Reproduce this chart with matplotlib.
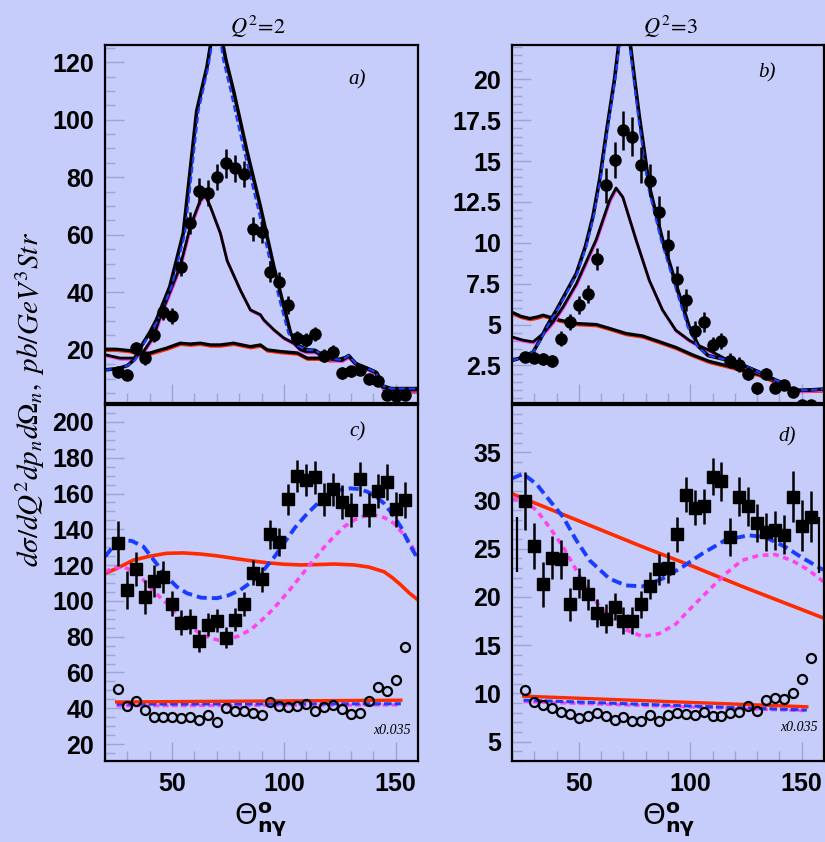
import matplotlib
matplotlib.use("Agg")
import matplotlib.pyplot as plt
import matplotlib.patheffects as pe
from matplotlib.ticker import MultipleLocator

BG = "#c6cdfa"
RED = "#ff2a00"
BLUE = "#1a3cff"
MAGENTA = "#ff44ee"
TICK = "#9ca4d8"

# угловые бины (общие для всех панелей)
theta = [26, 30, 34, 38, 42, 46, 50, 54, 58, 62, 66, 70, 74, 78, 82, 86, 90,
         94, 98, 102, 106, 110, 114, 118, 122, 126, 130, 134, 138, 142, 146, 150, 154]

# --- панель a) Q2=2 ---
data_a = [12.1, 11.3, 20.6, 17.1, 25.2, 33.3, 31.6, 48.9, 64.0, 75.3, 74.6, 80.2, 84.8,
          83.1, 81.0, 61.9, 61.1, 47.2, 43.4, 35.6, 24.0, 23.5, 25.4, 18.0, 19.4, 11.9,
          12.5, 13.0, 9.8, 9.0, 4.4, 4.0, 4.4]
err_a = [1.5, 1.5, 2.2, 2.5, 2.5, 2.8, 2.8, 3.3, 3.8, 4.5, 4.5, 4.5, 5.0, 4.8, 4.5, 4.2,
         4.0, 3.8, 3.5, 3.0, 2.5, 2.5, 2.5, 2.2, 2.2, 2.0, 2.0, 1.8, 1.8, 1.5, 1.5, 1.5, 1.5]
tot_a_x = [20, 26, 30, 33, 36, 40, 43, 49, 55, 61, 65.6, 68.5, 70, 71.5, 74, 77.5, 83.5,
           89.5, 95.5, 100, 103, 106, 110, 114, 118, 122, 126, 129, 132, 137, 141, 144, 148, 160]
blue_a_x = [20, 26, 30, 33.5, 36.5, 40.5, 43.7, 49.8, 55.8, 61.8, 66.2, 69, 70, 71, 72.8,
            76.2, 82.2, 88.2, 94.3, 98.8, 102, 105.3, 110, 114, 118, 122, 126, 129, 132,
            137, 141, 144, 148, 160]
tot_a_y = [13, 13.5, 14.5, 16.5, 21, 26, 30.4, 42, 60.5, 103, 118.4, 132, 136, 131, 121,
           110, 89, 69.8, 48.9, 35, 25.8, 21.7, 20, 19.8, 17.8, 16.8, 16.5, 18, 15.3, 13.6,
           12.3, 7.5, 6.5, 6.5]
mid_a_x = [20, 26.7, 32.7, 37.2, 41.7, 44.7, 49, 53.6, 58.1, 62.6, 64.8, 67.1, 71.6, 74.6,
           80.5, 85, 89.5, 91, 95.5, 100, 104.4, 107.4, 110, 114, 118, 122, 126, 129, 132,
           137, 141, 144, 148, 160]
mid_a_y = [18.3, 17.1, 17.1, 19.4, 24.6, 31.6, 40, 49, 62.8, 72, 73.8, 69.8, 60.5, 51,
           40.8, 33.9, 32.2, 30.4, 27, 24.1, 22.3, 20, 19.3, 19.3, 17.5, 16.5, 16.3, 17.7,
           15, 13.5, 12, 7, 6, 6]
low_a_x = [20, 25, 31.2, 36, 40.2, 44, 47.6, 53.6, 58, 62.6, 67.1, 71.6, 77.5, 85, 89.5,
           92.5, 98.5, 106, 110.4, 116.4, 120.9, 125, 129, 132.8, 137.3, 141.8, 144.8, 149.6, 160]
low_a_y = [20.2, 20.2, 19.7, 18.6, 18.9, 19.8, 20.6, 22.3, 22.0, 22.3, 21.7, 21.7, 22.3,
           21.1, 21.7, 20.0, 19.4, 18.9, 17.1, 17.1, 16.5, 16.8, 17.7, 14.8, 13.6, 11.9,
           6.1, 5.7, 5.7]

# --- панель b) Q2=3 ---
data_b = [3.0, 2.97, 2.9, 2.77, 4.14, 5.16, 6.19, 6.84, 9.01, 13.51, 15.09, 16.87, 16.48,
          14.78, 13.8, 11.9, 9.87, 7.77, 6.5, 4.61, 5.16, 3.73, 3.98, 2.78, 2.55, 2.0,
          1.1, 2.0, 1.1, 1.3, 0.87, 0.05, 0.05]
err_b = [0.3, 0.35, 0.35, 0.35, 0.45, 0.5, 0.55, 0.55, 0.7, 1.05, 1.1, 1.2, 1.2, 1.1, 1.0,
         0.95, 0.9, 0.8, 0.7, 0.6, 0.6, 0.5, 0.5, 0.45, 0.45, 0.4, 0.35, 0.35, 0.3, 0.3,
         0.3, 0.35, 0.35]
tot_b_x = [20, 25, 29.5, 32.5, 35.5, 40, 44, 48.9, 53, 56.3, 59.5, 62.3, 66, 68.5, 70.5,
           72.5, 75, 77.1, 81.6, 87.5, 93.5, 99.5, 103.9, 108, 115.8, 122, 130.7, 136.7,
           142.6, 145.6, 150, 160]
blue_b_x = [20, 25, 29.5, 32.8, 35.8, 40.4, 44.4, 49.3, 53.4, 56.7, 59.9, 62.7, 66.3, 68.8,
            70.5, 72.2, 74.6, 76.6, 81, 86.8, 92.8, 98.8, 103.3, 108, 115.8, 122, 130.7,
            136.7, 142.6, 145.6, 150, 160]
tot_b_y = [2.8, 3.0, 3.32, 4.04, 4.86, 5.9, 6.9, 8.13, 9.8, 11.6, 14, 16.7, 20, 22.8, 24.5,
           22.8, 20, 17.75, 13.45, 10.2, 7.5, 4.86, 3.63, 3.1, 2.85, 2.6, 2.1, 1.7, 1.35,
           1.0, 0.97, 1.05]
mid_b_x = [20, 25, 29.5, 34, 38.4, 42.9, 48.9, 57.8, 63.8, 66.7, 69.7, 75.6, 81.6, 87.5,
           93.5, 99.5, 104, 108.4, 115.8, 122, 130.7, 136.7, 142.6, 145.6, 150, 160]
mid_b_y = [4.24, 4.04, 3.94, 4.45, 5.16, 6.08, 7.5, 10.2, 12.6, 13.35, 12.8, 10.2, 7.7,
           5.9, 4.65, 4.04, 3.7, 3.43, 2.9, 2.6, 2.1, 1.7, 1.35, 1.0, 0.97, 1.05]
low_b_x = [20, 24, 28, 31, 34, 37, 41.4, 48.9, 57.8, 63.8, 71.2, 78.6, 86.1, 93.5, 100.9,
           108.4, 118.8, 125, 130.7, 136.7, 142.6, 145.6, 150, 160]
low_b_y = [5.75, 5.5, 5.37, 5.45, 5.57, 5.45, 5.27, 5.06, 5.0, 4.76, 4.45, 4.3, 3.95, 3.6,
           3.15, 2.75, 2.4, 2.15, 1.95, 1.6, 1.3, 0.97, 0.97, 1.0]

# --- панель c) ---
data_c = [132.2, 106.1, 117.6, 102.4, 111.3, 113.2, 98.3, 87.9, 88.4, 77.6, 86.6, 89.0,
          79.5, 89.4, 98.3, 115.8, 112.2, 137.2, 133.0, 156.7, 169.7, 167.5, 169.0, 156.7,
          162.3, 155.4, 150.7, 167.9, 150.7, 161.5, 166.5, 151.1, 156.3]
err_c = [12.5, 10.7, 9.5, 9.5, 9, 9, 7, 7, 7, 6, 6.5, 6.5, 6, 6.5, 6.5, 7, 7, 8, 8, 8.5,
         9, 9, 9, 9, 9, 9.5, 9.5, 9.5, 9.5, 9.5, 10, 10, 10]
open_c = [50.7, 41.0, 43.8, 39.1, 35.1, 35.1, 35.0, 34.8, 35.0, 33.6, 36.4, 32.1, 40.1,
          38.6, 38.3, 37.3, 36.4, 43.6, 41.0, 40.8, 41.4, 42.3, 38.3, 40.6, 41.6, 39.6,
          36.9, 37.6, 43.8, 52.1, 49.9, 55.9, 74.5]
blue_c_x = [20, 24, 28.2, 32, 37.2, 42, 47.6, 52, 56.6, 63, 70, 75, 80.5, 86, 91, 96, 100,
            105, 110.5, 116, 121, 125.5, 129.9, 133.5, 137.4, 141, 144.8, 148.5, 152.3, 156, 160.2]
blue_c_y = [124.7, 131, 134, 133.5, 130.3, 122.5, 113.5, 108, 104.3, 101.8, 101.5, 103,
            106.1, 111, 117.3, 125, 132.2, 141, 148.9, 155.5, 160.1, 162.3, 162.9, 162.5,
            161, 158.5, 154.5, 148.5, 141.4, 132, 122.8]
mag_c_x = [20, 24, 28, 32, 37.2, 42, 47.6, 53, 58.1, 63, 67.1, 71, 74.6, 80, 85, 89, 92.5,
           97, 101.5, 107, 113.4, 118, 122.4, 127, 131.4, 136, 140.3, 145, 149.3, 155, 160.2]
mag_c_y = [116.3, 118.5, 119.1, 117, 111.7, 105, 98.7, 91, 85.6, 81.5, 79.2, 78, 78.2,
           80.5, 83.8, 88, 92, 98, 104.5, 113, 123, 130, 136, 141.5, 145.2, 147.5, 148,
           146.5, 143.3, 135, 124.7]
red_c_x = [20, 25, 32.7, 40, 47.6, 55, 62.6, 70, 77.5, 85, 92.5, 100, 107.4, 115, 122.4,
           131.4, 138, 144.8, 148.5, 152.3, 156, 160]
red_c_y = [115.4, 118, 122.8, 125, 126.6, 126.8, 126.2, 125.2, 123.8, 122.5, 121.3, 120.5,
           120.1, 120.3, 120.6, 120.1, 118.9, 116.3, 113, 108.9, 104.5, 100.5]
scaled_x = [25.2, 152.3]
scaled_red_c = [43.5, 44.5]
scaled_blue_c = [42.3, 42.5]
scaled_mag_c = [41.3, 41.8]

# --- панель d) ---
data_d = [29.93, 25.28, 21.31, 24.07, 23.9, 19.24, 21.45, 20.28, 18.34, 17.76, 18.97,
          17.52, 17.52, 19.24, 21.14, 22.86, 23.03, 26.48, 30.59, 29.24, 29.38, 32.48, 32.0,
          26.2, 30.41, 29.38, 27.66, 26.72, 26.9, 26.45, 30.41, 27.41, 28.34]
err_d = [3.0, 2.4, 2.3, 2.2, 2.0, 1.7, 1.6, 1.6, 1.5, 1.5, 1.4, 1.4, 1.4, 1.4, 1.4, 1.6,
         1.6, 1.8, 1.8, 1.8, 1.8, 1.9, 2.0, 2.0, 2.0, 2.0, 2.0, 2.0, 2.0, 2.0, 2.6, 2.6, 2.6]
open_d = [10.34, 9.14, 8.8, 8.45, 8.1, 7.83, 7.41, 7.66, 7.93, 7.66, 7.24, 7.52, 7.14,
          7.17, 7.76, 7.17, 7.76, 8.0, 7.86, 7.76, 8.03, 7.66, 7.69, 7.93, 8.1, 8.69, 8.21,
          9.31, 9.48, 9.38, 10.07, 11.45, 13.72]
edge_d_x = [22.3, 157.7]
edge_d_y = [25.4, 25.35]
edge_d_err = [2.85, 2.9]
blue_d_x = [20.1, 25, 31, 36.9, 42.9, 48.8, 54.8, 63.7, 71.1, 78.6, 87.5, 96.4, 105.4,
            115.8, 126.2, 133.6, 142.6, 150, 159.7]
blue_d_y = [32.3, 32.76, 31.7, 30, 28.3, 25.9, 23.8, 21.9, 21.2, 21.1, 21.9, 23.1, 24.5,
            25.9, 26.4, 26.2, 25.2, 24.1, 22.8]
mag_d_x = [20.1, 25, 31, 36.9, 42.9, 48.8, 54.8, 63.7, 71.1, 78.6, 86, 93.5, 100.9, 108.3,
           115.8, 123.2, 130.7, 138.1, 145.5, 153, 159.7]
mag_d_y = [30.17, 30, 29, 27.2, 25.2, 22.8, 20.3, 17.9, 16.6, 15.9, 16.2, 17.2, 19, 20.7,
           22.4, 23.8, 24.3, 24.4, 23.8, 22.8, 21.6]
red_d_x = [20, 48.8, 78.6, 100.9, 123.2, 160]
red_d_y = [30.7, 28.0, 25.2, 23.2, 21.1, 17.8]
scaled_red_d = [9.72, 8.62]
scaled_blue_d = [9.31, 8.28]
scaled_mag_d = [9.14, 8.2]

fig = plt.figure(figsize=(8.25, 8.42), dpi=100, facecolor=BG)
ax_a = fig.add_axes([0.1273, 0.5214, 0.3794, 0.4252])
ax_b = fig.add_axes([0.6206, 0.5214, 0.3782, 0.4252])
ax_c = fig.add_axes([0.1273, 0.0962, 0.3794, 0.4228])
ax_d = fig.add_axes([0.6206, 0.0962, 0.3782, 0.4228])


def style(ax, ylim, major, minor, xlabels):
    ax.set_facecolor(BG)
    ax.set_xlim(20, 160)
    ax.set_ylim(*ylim)
    ax.xaxis.set_major_locator(MultipleLocator(50))
    ax.xaxis.set_minor_locator(MultipleLocator(10))
    ax.yaxis.set_major_locator(MultipleLocator(major))
    ax.yaxis.set_minor_locator(MultipleLocator(minor))
    ax.tick_params(which="major", direction="in", length=14, width=1, color=TICK,
                   labelsize=18, pad=8)
    ax.tick_params(which="minor", direction="in", length=7, width=1, color=TICK)
    for lab in ax.get_xticklabels() + ax.get_yticklabels():
        lab.set_fontweight("bold")
        lab.set_fontfamily("Liberation Sans")
    if not xlabels:
        ax.tick_params(labelbottom=False)
    for s in ax.spines.values():
        s.set_linewidth(1.6)
        s.set_color("black")


def overlay(ax, x, y, col, lw):
    # чёрная линия с цветной кромкой снизу
    ax.plot(x, y, color="black", lw=lw, solid_joinstyle="round",
            path_effects=[pe.SimpleLineShadow(offset=(0.4, -0.9), shadow_color=col, alpha=1.0),
                          pe.Normal()])


def top_panel(ax, data, err, tot_x, blue_x, tot_y, mid_x, mid_y, low_x, low_y):
    overlay(ax, low_x, low_y, RED, 2.3)
    overlay(ax, mid_x, mid_y, MAGENTA, 2.0)
    ax.plot(tot_x, tot_y, color="black", lw=2.6)
    ax.plot(blue_x, tot_y, color=BLUE, lw=1.6, dashes=(3, 1.5))
    ax.errorbar(theta, data, yerr=err, fmt="o", color="black", ms=8, elinewidth=1.8,
                capsize=0)


top_panel(ax_a, data_a, err_a, tot_a_x, blue_a_x, tot_a_y, mid_a_x, mid_a_y, low_a_x, low_a_y)
top_panel(ax_b, data_b, err_b, tot_b_x, blue_b_x, tot_b_y, mid_b_x, mid_b_y, low_b_x, low_b_y)

for ax, data, err, opn, bx, by, mx, my, rx, ry, sr, sb, sm in [
        (ax_c, data_c, err_c, open_c, blue_c_x, blue_c_y, mag_c_x, mag_c_y, red_c_x, red_c_y,
         scaled_red_c, scaled_blue_c, scaled_mag_c),
        (ax_d, data_d, err_d, open_d, blue_d_x, blue_d_y, mag_d_x, mag_d_y, red_d_x, red_d_y,
         scaled_red_d, scaled_blue_d, scaled_mag_d)]:
    ax.plot(rx, ry, color=RED, lw=2.6)
    ax.plot(mx, my, color=MAGENTA, lw=2.6, dashes=(1.6, 1.3))
    ax.plot(bx, by, color=BLUE, lw=2.8, dashes=(2.6, 1.3))
    ax.plot(scaled_x, sm, color=MAGENTA, lw=2.2, dashes=(2.0, 1.0))
    ax.plot(scaled_x, sb, color=BLUE, lw=2.2, dashes=(2.5, 1.0))
    ax.plot(scaled_x, sr, color=RED, lw=2.4)
    ax.plot(theta, opn, "o", ms=6.5, mfc="none", mec="black", mew=1.6)
    ax.errorbar(theta, data, yerr=err, fmt="s", color="black", ms=8, elinewidth=1.8,
                capsize=0)

ax_d.errorbar(edge_d_x, edge_d_y, yerr=edge_d_err, fmt="none", ecolor="black",
              elinewidth=1.6, capsize=0)

style(ax_a, (1.5, 126), 20, 5, False)
style(ax_b, (0.2, 22.1), 2.5, 0.5, False)
style(ax_c, (10.5, 209.5), 20, 5, True)
style(ax_d, (3, 39.9), 5, 1, True)
ax_b.yaxis.set_major_formatter(plt.FuncFormatter(lambda v, p: f"{v:g}"))

serif = dict(family="Liberation Serif", style="italic")
for ax, lab, px, py in [(ax_a, "a)", 0.805, 0.902), (ax_b, "b)", 0.817, 0.922),
                        (ax_c, "c)", 0.808, 0.924), (ax_d, "d)", 0.881, 0.91)]:
    ax.text(px, py, lab, transform=ax.transAxes, fontsize=15, ha="center", va="center", **serif)
for ax, px, py in [(ax_c, 0.978, 0.087), (ax_d, 0.981, 0.093)]:
    ax.text(px, py, "x0.035", transform=ax.transAxes, fontsize=10, ha="right", va="center",
            **serif)

fig.text(0.313, 0.968, r"$Q^2\!=\!2$", fontsize=16, ha="center", va="center",
         math_fontfamily="stix")
fig.text(0.813, 0.968, r"$Q^2\!=\!3$", fontsize=16, ha="center", va="center",
         math_fontfamily="stix")

fig.text(0.036, 0.525, r"$d\sigma/dQ^2dp_nd\Omega_n,\ pb/GeV^3Str$", rotation=90,
         fontsize=21, ha="center", va="center", math_fontfamily="stix")
for xc in (0.316, 0.81):
    fig.text(xc, 0.026, r"$\Theta_{\mathbf{n\gamma}}^{\mathbf{o}}$", fontsize=21,
             ha="center", va="center", math_fontfamily="dejavusans")

fig.savefig("out.png", dpi=100, facecolor=BG)
